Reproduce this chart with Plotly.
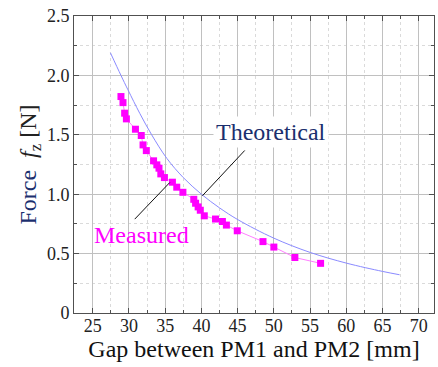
import plotly.graph_objects as go

# Measured data (gap in mm, force in N)
meas_gap = [28.9, 29.18, 29.41, 29.65, 30.9, 31.7, 31.95, 32.4, 33.4, 33.85, 34.15,
            34.4, 34.9, 36.0, 36.6, 37.45, 38.95, 39.2, 39.55, 39.85, 40.4, 41.95,
            42.9, 43.45, 44.95, 48.5, 50.0, 52.9, 56.45]
meas_force = [1.822, 1.771, 1.682, 1.634, 1.547, 1.494, 1.415, 1.367, 1.281, 1.247, 1.219,
              1.171, 1.140, 1.101, 1.059, 1.016, 0.957, 0.924, 0.893, 0.865, 0.818, 0.791,
              0.770, 0.740, 0.692, 0.601, 0.555, 0.467, 0.418]

# Theoretical curve
theo_gap = [27.45, 28.9, 29.87, 31.5, 33.14, 35.25, 37.5, 40.0, 42.5, 45.05, 50.0, 55.0, 60.0, 65.0, 67.35]
theo_force = [2.19, 2.0, 1.878, 1.68, 1.5, 1.30, 1.14, 1.0, 0.885, 0.785, 0.63, 0.51, 0.42, 0.35, 0.322]

x_ticks = [25, 30, 35, 40, 45, 50, 55, 60, 65, 70]
y_ticks = [0, 0.5, 1.0, 1.5, 2.0, 2.5]
y_ticktext = ["0", "0.5", "1.0", "1.5", "2.0", "2.5"]

SERIF = "Liberation Serif"
NAVY = "#1b2f6e"
MAGENTA = "#ff00ff"

fig = go.Figure()
fig.add_trace(go.Scatter(
    x=theo_gap, y=theo_force, mode="lines", line=dict(color="#8a8aff", width=1, shape="spline"),
    showlegend=False, hoverinfo="skip"))
fig.add_trace(go.Scatter(
    x=meas_gap, y=meas_force, mode="lines+markers",
    line=dict(color="#ff7fff", width=1),
    marker=dict(symbol="square", size=7, color=MAGENTA, line=dict(width=0)),
    showlegend=False))

axis_common = dict(
    showline=True, linecolor="#505050", linewidth=1, mirror="ticks",
    ticks="inside", ticklen=5, tickcolor="#505050",
    showgrid=True, gridcolor="#c0c0c0", gridwidth=1,
    zeroline=False,
    tickfont=dict(family=SERIF, size=18, color="#222222"),
)

fig.update_xaxes(
    **axis_common,
    range=[22.42, 72.1], tickvals=x_ticks, ticklabelstandoff=-4,
    minor=dict(dtick=2.5, tick0=22.5, ticks="inside", ticklen=3, tickcolor="#505050",
               showgrid=True, gridcolor="#dadada", griddash="dot", gridwidth=1),
    title=dict(text="Gap between PM1 and PM2 [mm]", font=dict(family=SERIF, size=24, color="#111111"),
               standoff=4),
)
fig.update_yaxes(
    **axis_common,
    range=[0, 2.5], tickvals=y_ticks, ticktext=y_ticktext,
    minor=dict(dtick=0.25, tick0=0, ticks="inside", ticklen=3, tickcolor="#505050",
               showgrid=True, gridcolor="#dadada", griddash="dot", gridwidth=1),
    title=dict(text=f"<span style='color:{NAVY}'>Force</span>  <i>f</i><sub>z</sub> [N]",
               font=dict(family=SERIF, size=24, color="#222222"), standoff=3),
)

# leader lines
fig.add_shape(type="line", x0=45.98, y0=1.368, x1=40.14, y1=0.987, line=dict(color="#111111", width=1))
fig.add_shape(type="line", x0=35.63, y0=1.098, x1=30.8, y1=0.79, line=dict(color="#111111", width=1))

fig.add_annotation(x=49.57, y=1.52, text="Theoretical", showarrow=False,
                   font=dict(family=SERIF, size=24, color=NAVY), bgcolor="white", borderpad=2)
fig.add_annotation(x=31.67, y=0.66, text="Measured", showarrow=False,
                   font=dict(family=SERIF, size=24, color=MAGENTA))

fig.update_layout(
    width=438, height=367,
    font=dict(family=SERIF),
    margin=dict(l=74, r=4, t=16, b=54, autoexpand=False),
    plot_bgcolor="white", paper_bgcolor="white",
)

fig.write_html("out.html", config={"displayModeBar": False},
               post_script="document.body.style.margin='0';document.body.style.padding='0';")
